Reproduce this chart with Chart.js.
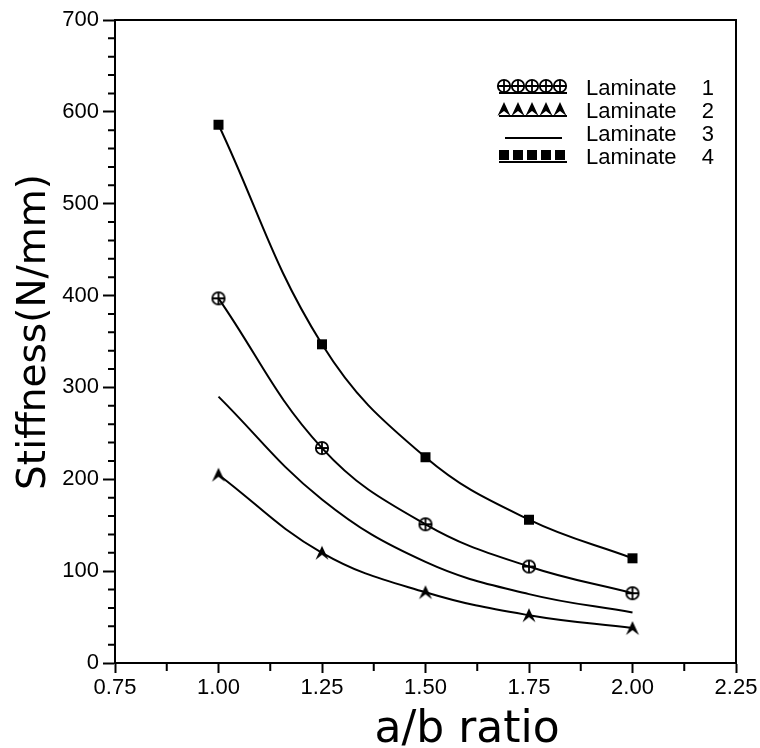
<!DOCTYPE html>
<html lang="en">
<head>
<meta charset="UTF-8">
<title>Stiffness vs a/b ratio</title>
<script src="https://cdn.jsdelivr.net/npm/chart.js"></script>
<style>
  body { margin: 0; background: #fff; }
  #wrap { width: 760px; height: 748px; }
</style>
</head>
<body>
<div id="wrap"><canvas id="stiffChart" width="760" height="748"></canvas></div>
<script>
// values
const ratios = [1.00, 1.25, 1.50, 1.75, 2.00];
const laminate1 = [397, 234, 151, 105, 76];
const laminate2 = [205, 120, 77, 52, 38];
const laminate3 = [290, 178, 110, 75, 55];
const laminate4 = [586, 347, 224, 156, 114];
const seriesNames = ['Laminate', 'Laminate', 'Laminate', 'Laminate'];
const seriesNums = ['1', '2', '3', '4'];
const xMajor = [0.75, 1.00, 1.25, 1.50, 1.75, 2.00, 2.25];
const yMajor = [0, 100, 200, 300, 400, 500, 600, 700];

const FONT = '"Liberation Sans", Arial, sans-serif';
const TITLE_FONT = '"DejaVu Sans", sans-serif';

function makeMarker(kind) {
    const c = document.createElement('canvas');
    c.width = 16; c.height = 16;
    const g = c.getContext('2d');
    g.fillStyle = '#000';
    g.strokeStyle = '#000';
    g.lineWidth = 1.8;
    if (kind === 'circlePlus') {
        g.beginPath(); g.arc(8, 8, 6.2, 0, 2 * Math.PI); g.stroke();
        g.beginPath(); g.moveTo(2, 8); g.lineTo(14, 8); g.moveTo(8, 2); g.lineTo(8, 14); g.stroke();
    } else if (kind === 'arrow') {
        g.beginPath(); g.moveTo(8, 1); g.lineTo(14.5, 15); g.lineTo(8, 10); g.lineTo(1.5, 15); g.closePath(); g.fill();
    } else if (kind === 'square') {
        g.fillRect(3, 3, 10, 10);
    }
    return c;
}
const markers = [makeMarker('circlePlus'), makeMarker('arrow'), null, makeMarker('square')];

function toPoints(ys) {
    return ratios.map((r, i) => ({ x: r, y: ys[i] }));
}
const allSeries = [laminate1, laminate2, laminate3, laminate4];

// frame, minor ticks, legend, axis titles
const extras = {
    id: 'extras',
    afterDraw(chart) {
        const ctx = chart.ctx;
        const a = chart.chartArea;
        const xs = chart.scales.x, ys = chart.scales.y;
        ctx.save();
        ctx.strokeStyle = '#000';
        ctx.lineWidth = 2;
        ctx.beginPath();
        ctx.moveTo(a.left, a.top); ctx.lineTo(a.right, a.top); ctx.lineTo(a.right, a.bottom);
        ctx.stroke();

        // minor ticks
        ctx.beginPath();
        for (let v = 20; v < 700; v += 20) {
            if (v % 100 === 0) continue;
            const py = ys.getPixelForValue(v);
            ctx.moveTo(a.left - 7, py); ctx.lineTo(a.left, py);
        }
        for (let v = 0.875; v < 2.25; v += 0.25) {
            const px = xs.getPixelForValue(v);
            ctx.moveTo(px, a.bottom); ctx.lineTo(px, a.bottom + 8);
        }
        ctx.stroke();

        // legend
        const rowY = [88, 111, 134, 157];
        ctx.fillStyle = '#000';
        ctx.font = '22px ' + FONT;
        ctx.textBaseline = 'middle';
        rowY.forEach((y, i) => {
            ctx.lineWidth = 2;
            ctx.beginPath();
            if (markers[i]) {
                ctx.moveTo(499, y + 5); ctx.lineTo(567, y + 5);
            } else {
                ctx.moveTo(505, y + 4); ctx.lineTo(562, y + 4);
            }
            ctx.stroke();
            if (markers[i]) {
                for (let k = 0; k < 5; k++) {
                    ctx.drawImage(markers[i], 504 + k * 14 - 8, y - 2 - 8);
                }
            }
            ctx.textAlign = 'left';
            ctx.fillText(seriesNames[i], 586, y + 1);
            ctx.textAlign = 'right';
            ctx.fillText(seriesNums[i], 714, y + 1);
        });

        // axis titles
        ctx.textAlign = 'center';
        ctx.textBaseline = 'alphabetic';
        ctx.font = '44px ' + TITLE_FONT;
        ctx.fillText('a/b ratio', 467, 742);
        ctx.translate(45, 332);
        ctx.rotate(-Math.PI / 2);
        ctx.font = '39px ' + TITLE_FONT;
        ctx.fillText('Stiffness(N/mm)', 0, 0);
        ctx.restore();
    }
};

new Chart(document.getElementById('stiffChart'), {
    type: 'line',
    data: {
        datasets: allSeries.map((s, i) => ({
            label: seriesNames[i] + ' ' + seriesNums[i],
            data: toPoints(s),
            borderColor: '#000',
            backgroundColor: '#000',
            borderWidth: 2,
            tension: 0.4,
            pointStyle: markers[i] || 'circle',
            pointRadius: markers[i] ? 8 : 0,
            fill: false
        }))
    },
    options: {
        responsive: false,
        animation: false,
        events: [],
        layout: { padding: { top: 20, right: 24, left: 0, bottom: 0 } },
        plugins: {
            legend: { display: false },
            tooltip: { enabled: false }
        },
        scales: {
            x: {
                type: 'linear',
                min: 0.75,
                max: 2.25,
                afterFit: s => { s.height = 85; },
                afterBuildTicks: s => { s.ticks = xMajor.map(v => ({ value: v })); },
                border: { color: '#000', width: 2 },
                grid: { drawOnChartArea: false, color: '#000', tickColor: '#000', tickLength: 10, tickWidth: 2 },
                ticks: {
                    color: '#000',
                    padding: 2,
                    maxRotation: 0,
                    font: { family: FONT, size: 22 },
                    callback: v => v.toFixed(2)
                }
            },
            y: {
                min: 0,
                max: 700,
                afterFit: s => { s.width = 115; },
                afterBuildTicks: s => { s.ticks = yMajor.map(v => ({ value: v })); },
                border: { color: '#000', width: 2 },
                grid: { drawOnChartArea: false, color: '#000', tickColor: '#000', tickLength: 12, tickWidth: 2 },
                ticks: {
                    color: '#000',
                    padding: 4,
                    font: { family: FONT, size: 22 },
                    callback: v => String(v)
                }
            }
        }
    },
    plugins: [extras]
});
</script>
</body>
</html>
